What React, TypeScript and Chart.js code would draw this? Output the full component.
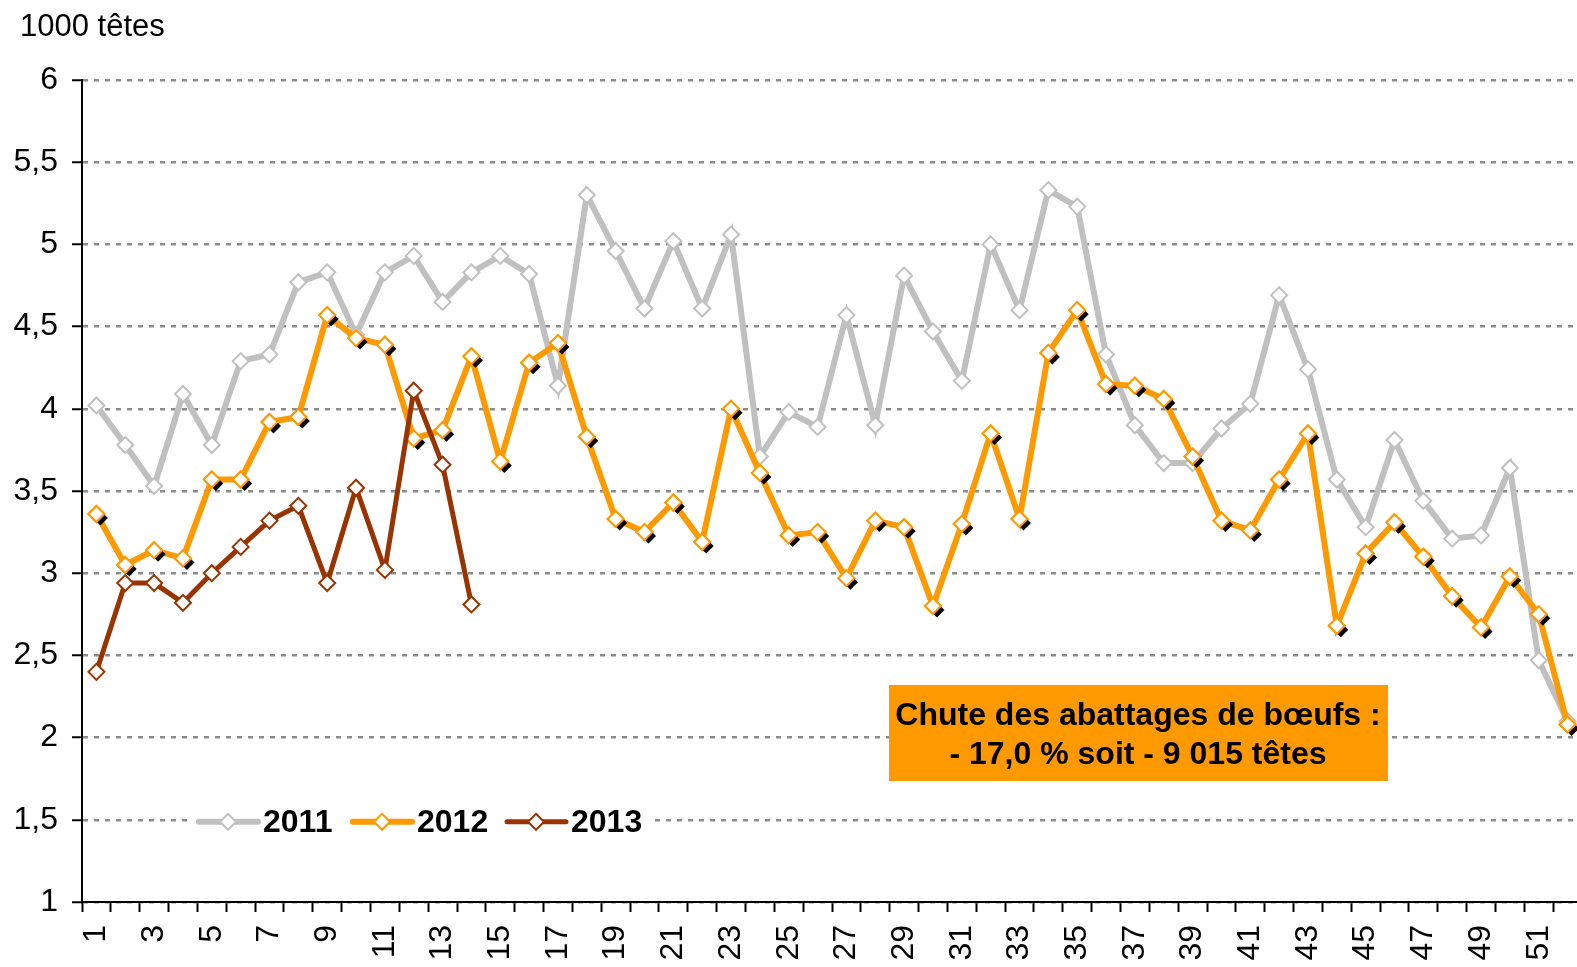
import React, { useEffect, useRef } from 'react';
import { Chart, registerables } from 'chart.js';

Chart.register(...registerables);

const FONT = '"Liberation Sans", Arial, Helvetica, sans-serif';

const weeks = [
  '1', '2', '3', '4', '5', '6', '7', '8', '9', '10', '11', '12', '13', '14', '15', '16', '17', '18', '19', '20',
  '21', '22', '23', '24', '25', '26', '27', '28', '29', '30', '31', '32', '33', '34', '35', '36', '37', '38', '39', '40',
  '41', '42', '43', '44', '45', '46', '47', '48', '49', '50', '51', '52',
];

const values2011 = [
  4.02, 3.78, 3.53, 4.09, 3.78, 4.29, 4.33, 4.77, 4.83, 4.45,
  4.83, 4.93, 4.65, 4.83, 4.93, 4.82, 4.14, 5.3, 4.96, 4.61,
  5.02, 4.61, 5.06, 3.71, 3.98, 3.89, 4.57, 3.9, 4.81, 4.47,
  4.17, 5.0, 4.6, 5.33, 5.23, 4.33, 3.9, 3.67, 3.67, 3.88,
  4.03, 4.69, 4.24, 3.57, 3.28, 3.81, 3.44, 3.21, 3.23, 3.64,
  2.47, 2.1,
];

const values2012 = [
  3.36, 3.05, 3.14, 3.09, 3.57, 3.57, 3.92, 3.95, 4.57, 4.43,
  4.39, 3.82, 3.87, 4.32, 3.68, 4.28, 4.4, 3.83, 3.33, 3.25,
  3.43, 3.19, 4.0, 3.61, 3.23, 3.25, 2.97, 3.32, 3.28, 2.8,
  3.3, 3.85, 3.33, 4.34, 4.6, 4.15, 4.14, 4.06, 3.71, 3.32,
  3.26, 3.57, 3.85, 2.68, 3.12, 3.31, 3.1, 2.86, 2.67, 2.98,
  2.75, 2.08,
];

const values2013 = [
  2.4, 2.94, 2.94, 2.82, 3.0, 3.16, 3.32, 3.41, 2.94, 3.52, 3.02, 4.11, 3.66, 2.81,
];

const seriesNames = ['2011', '2012', '2013'];
const seriesColors = ['#C0C0C0', '#FF9900', '#993300'];
const seriesWidths = [6, 6, 5];

const yMin = 1;
const yMax = 6;
const yStep = 0.5;

const unitLabel = '1000 têtes';
const noteLines = ['Chute des abattages de bœufs :', '- 17,0 % soit - 9 015 têtes'];

function diamond(ctx: CanvasRenderingContext2D, x: number, y: number, r: number) {
  ctx.beginPath();
  ctx.moveTo(x, y - r);
  ctx.lineTo(x + r, y);
  ctx.lineTo(x, y + r);
  ctx.lineTo(x - r, y);
  ctx.closePath();
}

const decorPlugin = {
  id: 'decor',
  afterDatasetDraw(chart: any, args: any) {
    if (args.index !== 1) return;
    const ctx = chart.ctx as CanvasRenderingContext2D;
    const meta = args.meta;
    ctx.save();
    ctx.fillStyle = '#000';
    meta.data.forEach((pt: any) => {
      diamond(ctx, pt.x + 4, pt.y + 4, 7.5);
      ctx.fill();
    });
    ctx.restore();
    meta.data.forEach((pt: any) => pt.draw(ctx, chart.chartArea));
  },
  afterDraw(chart: any) {
    const ctx = chart.ctx as CanvasRenderingContext2D;
    ctx.save();
    // unit label
    ctx.fillStyle = '#000';
    ctx.font = `31px ${FONT}`;
    ctx.textBaseline = 'middle';
    ctx.textAlign = 'left';
    ctx.fillText(unitLabel, 20, 27);

    // legend
    const ly = chart.scales.y.getPixelForValue(1.5) + 2;
    ctx.fillStyle = '#fff';
    ctx.fillRect(189, ly - 19, 460, 38);
    chart.data.datasets.forEach((ds: any, i: number) => {
      const x0 = 199 + i * 154;
      ctx.strokeStyle = ds.borderColor;
      ctx.lineWidth = ds.borderWidth;
      ctx.lineCap = 'round';
      ctx.beginPath();
      ctx.moveTo(x0, ly);
      ctx.lineTo(x0 + 59, ly);
      ctx.stroke();
      diamond(ctx, x0 + 29, ly, 8);
      ctx.fillStyle = '#fff';
      ctx.fill();
      ctx.lineWidth = 2;
      ctx.strokeStyle = ds.pointBorderColor;
      ctx.stroke();
      ctx.fillStyle = '#000';
      ctx.font = `bold 32px ${FONT}`;
      ctx.textAlign = 'left';
      ctx.textBaseline = 'middle';
      ctx.fillText(ds.label, x0 + 64, ly + 1);
    });

    // note box
    ctx.fillStyle = '#FF9900';
    ctx.fillRect(889, 685, 499, 96);
    ctx.fillStyle = '#000';
    ctx.font = `bold 32px ${FONT}`;
    ctx.textAlign = 'center';
    ctx.textBaseline = 'middle';
    ctx.fillText(noteLines[0], 1138, 716);
    ctx.fillText(noteLines[1], 1138, 755);
    ctx.restore();
  },
};

export default function App() {
  const canvasRef = useRef<HTMLCanvasElement | null>(null);

  useEffect(() => {
    if (!canvasRef.current) return;
    const series = [values2011, values2012, values2013];
    const chart = new Chart(canvasRef.current, {
      type: 'line',
      data: {
        labels: weeks,
        datasets: series.map((vals, i) => ({
          label: seriesNames[i],
          data: vals,
          borderColor: seriesColors[i],
          borderWidth: seriesWidths[i],
          pointStyle: 'rectRot',
          pointRadius: 8,
          pointBorderWidth: 2,
          pointBackgroundColor: '#ffffff',
          pointBorderColor: seriesColors[i],
          tension: 0,
          fill: false,
          order: 3 - i,
        })),
      },
      options: {
        animation: false,
        responsive: true,
        maintainAspectRatio: false,
        layout: { padding: { top: 80, right: 2, left: 0, bottom: 0 } },
        plugins: {
          legend: { display: false },
          tooltip: { enabled: false },
        },
        scales: {
          x: {
            type: 'category',
            offset: true,
            grid: {
              offset: true,
              drawOnChartArea: false,
              drawTicks: true,
              tickLength: 10,
              tickColor: '#000',
              tickWidth: 2,
            },
            border: { display: true, color: '#000', width: 2 },
            ticks: {
              autoSkip: false,
              maxRotation: 90,
              minRotation: 90,
              padding: 13,
              color: '#000',
              font: { family: FONT, size: 32 },
              callback: (_v: any, idx: number) => (idx % 2 === 0 ? weeks[idx] : ''),
            },
            afterFit: (scale: any) => {
              scale.height = 65;
              scale.paddingLeft = 0;
              scale.paddingRight = 0;
            },
          },
          y: {
            type: 'linear',
            min: yMin,
            max: yMax,
            grid: {
              color: '#8c8c8c',
              lineWidth: 2.5,
              drawTicks: true,
              tickLength: 10,
              tickColor: '#000',
              tickWidth: 2,
              tickBorderDash: [],
            },
            border: { display: true, color: '#000', width: 2, dash: [5, 6] },
            ticks: {
              stepSize: yStep,
              padding: 14,
              color: '#000',
              font: { family: FONT, size: 32 },
              callback: (v: any) => String(v).replace('.', ','),
            },
            afterFit: (scale: any) => {
              scale.width = 82;
            },
          },
        },
      },
      plugins: [decorPlugin],
    });
    return () => chart.destroy();
  }, []);

  return (
    <div style={{ position: 'fixed', left: 0, top: 0, width: '100vw', height: '100vh', overflow: 'hidden', background: '#fff' }}>
      <div style={{ position: 'absolute', left: 0, top: 0, width: 1592, height: 967 }}>
        <canvas ref={canvasRef} />
      </div>
    </div>
  );
}
